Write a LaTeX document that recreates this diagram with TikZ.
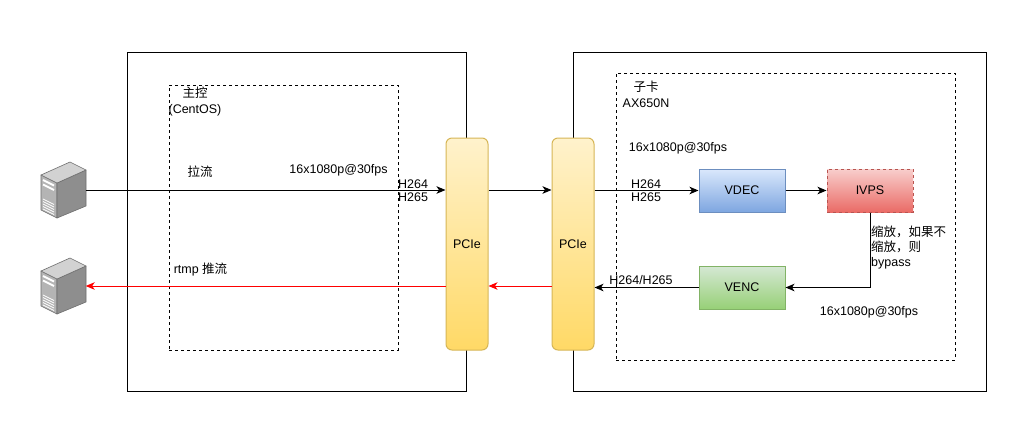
\documentclass[tikz,border=0pt]{standalone}
\usepackage{fontspec}
\setmainfont{Liberation Sans}
\newfontfamily\cjk{Noto Sans CJK SC}
\usetikzlibrary{arrows.meta}
\definecolor{pcieBorder}{HTML}{D6B656}
\definecolor{pcieTop}{HTML}{FFF2CC}
\definecolor{pcieBot}{HTML}{FFD966}
\definecolor{blueBorder}{HTML}{6C8EBF}
\definecolor{blueTop}{HTML}{DAE8FC}
\definecolor{blueBot}{HTML}{7EA6E0}
\definecolor{redBorder}{HTML}{B85450}
\definecolor{redTop}{HTML}{F8CECC}
\definecolor{redBot}{HTML}{EA6B66}
\definecolor{greenBorder}{HTML}{82B366}
\definecolor{greenTop}{HTML}{D5E8D4}
\definecolor{greenBot}{HTML}{97D077}
\definecolor{srvEdge}{HTML}{6E6E6E}
\definecolor{srvFront}{HTML}{B4B4B4}
\definecolor{srvSide}{HTML}{8E8E8E}
\definecolor{srvTop}{HTML}{D2D2D2}
\definecolor{arrowRed}{HTML}{FF0000}
\begin{document}
\begin{tikzpicture}[x=1pt,y=-1pt,
  txt/.style={font=\fontsize{12.5}{13.5}\selectfont, inner sep=0pt, text=black},
  arr/.style={-{Stealth[length=9pt,width=7.5pt,inset=2.5pt]}, line width=1pt, draw=black},
  redarr/.style={-{Stealth[length=9pt,width=7.5pt,inset=2.5pt]}, line width=1pt, draw=arrowRed},
  outerbox/.style={draw=black, line width=1pt, inner sep=0pt, fill=none},
  dashbox/.style={draw=black, line width=1pt, dash pattern=on 3pt off 3pt, inner sep=0pt},
  pciebox/.style={draw=pcieBorder, line width=1pt, rounded corners=6pt, top color=pcieTop, bottom color=pcieBot, minimum width=42pt, minimum height=212pt, inner sep=0pt, font=\fontsize{12.5}{13.5}\selectfont},
  modbox/.style={line width=1pt, minimum width=86pt, minimum height=43pt, inner sep=0pt, font=\fontsize{12.5}{13.5}\selectfont},
  srvnode/.style={minimum width=45pt, minimum height=56pt, inner sep=0pt}
]
\useasboundingbox (0,0) rectangle (1036,421);
\fill[white] (0,0) rectangle (1036,421);

% outer and dashed frames
\node[outerbox, minimum width=339pt, minimum height=339pt] (host) at (296.5,221.5) {};
\node[dashbox, minimum width=229pt, minimum height=265pt] (hostos) at (283.5,217.5) {};
\node[outerbox, minimum width=413pt, minimum height=339pt] (card) at (779.5,221.5) {};
\node[dashbox, minimum width=339pt, minimum height=287pt] (cardsoc) at (785.5,216.5) {};

% PCIe
\node[pciebox] (pcieL) at (467,244) {PCIe};
\node[pciebox] (pcieR) at (573,244) {PCIe};

% modules
\node[modbox, draw=blueBorder, top color=blueTop, bottom color=blueBot] (vdec) at (742,190.5) {VDEC};
\node[modbox, draw=redBorder, dash pattern=on 3pt off 3pt, top color=redTop, bottom color=redBot] (ivps) at (870,190.5) {IVPS};
\node[modbox, draw=greenBorder, top color=greenTop, bottom color=greenBot] (venc) at (742,287.5) {VENC};

% servers
\node[srvnode] (srv1) at (63,190) {};
\node[srvnode] (srv2) at (63,286) {};
\foreach \s in {srv1,srv2}{
  \begin{scope}[shift={(\s.center)}]
    \filldraw[fill=srvFront, draw=srvEdge, line width=0.6pt, line join=round] (-22,-15) -- (-6,-7) -- (-6,28) -- (-22,20) -- cycle;
    \filldraw[fill=srvSide, draw=srvEdge, line width=0.6pt, line join=round] (-6,-7) -- (23,-20) -- (23,16) -- (-6,28) -- cycle;
    \filldraw[fill=srvTop, draw=srvEdge, line width=0.6pt, line join=round] (-22,-15) -- (7,-28) -- (23,-20) -- (-6,-7) -- cycle;
    \draw[white, line width=2pt] (-20,-10) -- (-9,-4.5);
    \draw[white, line width=2pt] (-20,-5.5) -- (-9,0);
    \foreach \v in {9,11.5,14,16.5,19}{
      \draw[white, line width=0.8pt] (-20,\v) -- (-9,\v+5.5);
    }
  \end{scope}
}

% connectors
\draw[arr] (srv1.east) -- (pcieL.west |- srv1.east);
\draw[arr] (pcieL.east |- srv1.east) -- (pcieR.west |- srv1.east);
\draw[arr] (pcieR.east |- vdec.west) -- (vdec.west);
\draw[arr] (vdec.east) -- (ivps.west);
\draw[arr] (ivps.south) -- (ivps.south |- venc.east) -- (venc.east);
\draw[arr] (venc.west) -- (pcieR.east |- venc.west);
\draw[redarr] (pcieR.west |- srv2.east) -- (pcieL.east |- srv2.east);
\draw[redarr] (pcieL.west |- srv2.east) -- (srv2.east);

% labels
\node[txt, align=center, font=\fontsize{12.5}{15.5}\selectfont] (lblhost) at (195,101.5) {{\cjk 主控}\\(CentOS)};
\node[txt] (lblpull) at (200,172) {\cjk 拉流};
\node[txt] (lblfps1) at (338.5,170) {16x1080p@30fps};
\node[txt, anchor=west, align=left] (lblcodec1) at (398,190.5) {H264\\H265};
\node[txt] (lblpush) at (200.5,270) {rtmp {\cjk 推流}};
\node[txt, align=center, font=\fontsize{12.5}{15.5}\selectfont] (lblcard) at (646,94.5) {{\cjk 子卡}\\AX650N};
\node[txt] (lblfps2) at (678,148) {16x1080p@30fps};
\node[txt, anchor=west, align=left] (lblcodec2) at (631,190.5) {H264\\H265};
\node[txt, anchor=west, align=left, font=\fontsize{12.5}{15}\selectfont] (lblscale) at (871,248) {{\cjk 缩放，如果不}\\{\cjk 缩放，则}\\bypass};
\node[txt] (lblcodec3) at (641,280) {H264/H265};
\node[txt] (lblfps3) at (869,312) {16x1080p@30fps};
\end{tikzpicture}
\end{document}
